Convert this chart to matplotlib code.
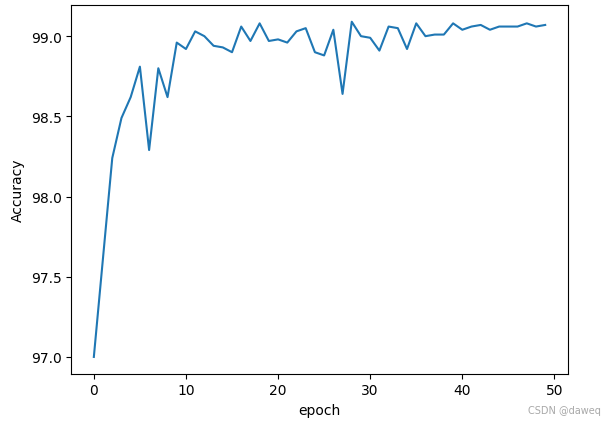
import matplotlib
matplotlib.use("Agg")
import matplotlib.pyplot as plt

# ── Data ──────────────────────────────────────────────────────────────────────
epochs = list(range(50))
accuracy = [
    97.00, 97.62, 98.24, 98.49, 98.62, 98.81, 98.29, 98.80, 98.62, 98.96,
    98.92, 99.03, 99.00, 98.94, 98.93, 98.90, 99.06, 98.97, 99.08, 98.97,
    98.98, 98.96, 99.03, 99.05, 98.90, 98.88, 99.04, 98.64, 99.09, 99.00,
    98.99, 98.91, 99.06, 99.05, 98.92, 99.08, 99.00, 99.01, 99.01, 99.08,
    99.04, 99.06, 99.07, 99.04, 99.06, 99.06, 99.06, 99.08, 99.06, 99.07,
]

fig = plt.figure(figsize=(6.16, 4.27), dpi=100)
ax = fig.add_axes([0.1157, 0.1225, 0.806, 0.8635])
ax.plot(epochs, accuracy, color="#1f77b4", linewidth=1.5)
ax.set_xlabel("epoch")
ax.set_ylabel("Accuracy")

fig.text(0.975, 0.025, "CSDN @daweq", ha="right", va="bottom",
         fontsize=7, color="#a8a8a8")

fig.savefig("out.png", dpi=100)
